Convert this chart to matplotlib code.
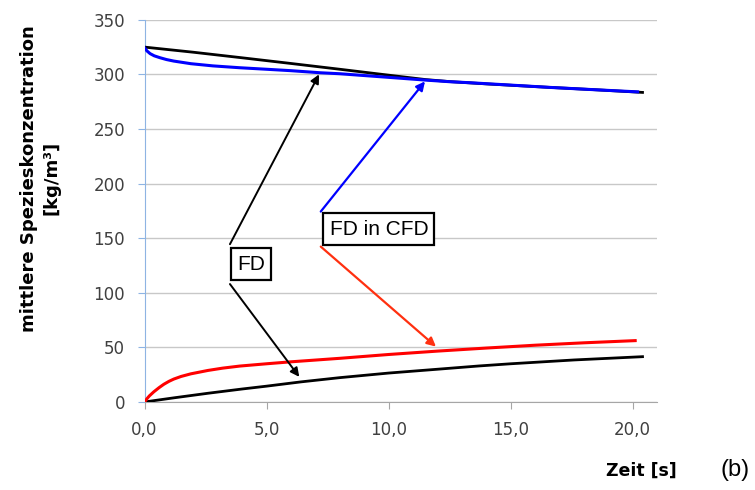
import numpy as np
import matplotlib.pyplot as plt

# mean species concentration over time: FD vs. FD coupled in CFD
t_fd_hi = [0, 2.0, 4.0, 6.0, 8.0, 10.0, 11.5, 12.5, 14.0, 16.6, 18.5, 20.4]
c_fd_hi = [325.0, 320.3, 315.2, 310.0, 304.7, 299.3, 295.3, 293.4, 291.3, 288.1, 285.9, 283.5]

t_cfd_hi = [0, 0.1, 0.23, 0.4, 0.63, 0.9, 1.2, 1.9, 2.8, 3.9, 5.0, 6.0, 7.2, 8.0,
            10.0, 11.5, 12.5, 13.3, 15.0, 16.6, 18.5, 20.2]
c_cfd_hi = [324.5, 321.5, 319.0, 317.0, 315.3, 313.6, 312.2, 309.8, 307.8, 306.1, 304.7,
            303.4, 301.5, 300.6, 297.3, 294.8, 293.3, 292.4, 290.2, 288.1, 285.9, 284.0]

t_fd_lo = [0, 0.5, 1.2, 2.6, 4.0, 5.0, 6.4, 8.0, 10.0, 12.0, 13.7, 15.0, 17.6, 20.4]
c_fd_lo = [0, 1.6, 3.8, 8.0, 11.9, 14.5, 18.4, 22.3, 26.5, 30.0, 33.0, 35.0, 38.5, 41.5]

t_cfd_lo = [0, 0.1, 0.2, 0.38, 0.6, 0.79, 1.0, 1.2, 1.5, 1.9, 2.6, 3.2, 3.9, 5.0, 6.0,
            8.0, 10.0, 12.0, 14.0, 16.0, 18.0, 20.1]
c_cfd_lo = [0, 3.0, 5.6, 9.3, 13.2, 16.2, 18.9, 21.0, 23.4, 25.8, 28.9, 31.0, 32.9, 35.0,
            36.8, 40.0, 43.5, 46.6, 49.4, 52.0, 54.2, 56.2]

x_ticks = [0, 5, 10, 15, 20]
y_ticks = [0, 50, 100, 150, 200, 250, 300, 350]

# label boxes (centre) and arrow start/end points
fd_box = (4.36, 126.3)
fd_arrows = [((3.5, 144.5), (7.15, 300.0)), ((3.5, 108.0), (6.34, 23.0))]
cfd_box = (9.60, 158.3)
cfd_arrows = [((7.22, 174.4), (11.49, 293.6), '#0000ff'),
              ((7.22, 142.3), (11.94, 50.7), '#ff3010')]

fig = plt.figure(figsize=(7.55, 4.9), dpi=100)
ax = fig.add_axes([0.1914, 0.1796, 0.679, 0.780])

ax.plot(t_fd_hi, c_fd_hi, color='black', lw=2.0, zorder=3)
ax.plot(t_cfd_hi, c_cfd_hi, color='#0000ff', lw=2.2, zorder=4)
ax.plot(t_fd_lo, c_fd_lo, color='black', lw=2.0, zorder=3)
ax.plot(t_cfd_lo, c_cfd_lo, color='#ff0000', lw=2.2, zorder=4)

for start, tip in fd_arrows:
    ax.annotate('', xy=tip, xytext=start,
                arrowprops=dict(arrowstyle='-|>', color='black', lw=1.4,
                                mutation_scale=13, shrinkA=0, shrinkB=0), zorder=5)
for start, tip, col in cfd_arrows:
    ax.annotate('', xy=tip, xytext=start,
                arrowprops=dict(arrowstyle='-|>', color=col, lw=1.6,
                                mutation_scale=13, shrinkA=0, shrinkB=0), zorder=5)

box = dict(boxstyle='square,pad=0.3', fc='white', ec='black', lw=1.6)
ax.text(fd_box[0], fd_box[1], 'FD', ha='center', va='center', fontsize=15,
        family='Liberation Sans', bbox=box, zorder=6)
ax.text(cfd_box[0], cfd_box[1], 'FD in CFD', ha='center', va='center', fontsize=15,
        family='Liberation Sans', bbox=box, zorder=6)

ax.set_xlim(0, 21)
ax.set_ylim(0, 350)
ax.set_xticks(x_ticks)
ax.set_xticklabels([f'{v:.1f}'.replace('.', ',') for v in x_ticks])
ax.set_yticks(y_ticks)

ax.yaxis.grid(True, color='#c8c8c8', lw=1.0)
ax.set_axisbelow(True)
for side in ['top', 'right']:
    ax.spines[side].set_visible(False)
ax.spines['left'].set_color('#8eb4e3')
ax.spines['bottom'].set_color('#a6a6a6')
ax.tick_params(axis='y', colors='#8eb4e3', length=5, pad=9, labelsize=12, labelcolor='#404040')
ax.tick_params(axis='x', colors='#a6a6a6', length=5, pad=9, labelsize=12, labelcolor='#404040')

fig.text(0.053, 0.636, 'mittlere Spezieskonzentration\n[kg/m³]', rotation=90,
         ha='center', va='center', fontsize=13, fontweight='bold', linespacing=1.3,
         multialignment='center')
fig.text(0.849, 0.0388, 'Zeit [s]', ha='center', va='center', fontsize=12.5, fontweight='bold')
fig.text(0.9735, 0.0408, '(b)', ha='center', va='center', fontsize=17, family='Liberation Sans')

fig.savefig('out.png', dpi=100)
